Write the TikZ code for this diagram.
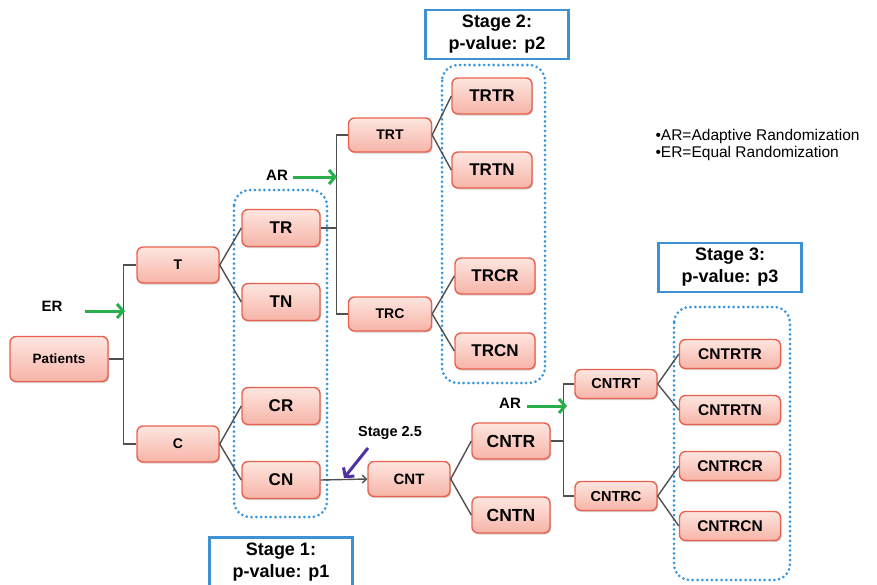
\documentclass[tikz,border=0pt]{standalone}
\usepackage{fontspec}
\setmainfont{Liberation Sans}
\usetikzlibrary{arrows.meta,shadows}

\definecolor{boxline}{RGB}{233,98,78}
\definecolor{boxtop}{RGB}{253,230,224}
\definecolor{boxbot}{RGB}{247,180,168}
\definecolor{stageblue}{RGB}{62,145,210}
\definecolor{dotblue}{RGB}{55,150,218}
\definecolor{argreen}{RGB}{40,175,75}
\definecolor{pointer}{RGB}{75,50,160}
\definecolor{wire}{RGB}{80,80,80}

\begin{document}
\begin{tikzpicture}[x=1pt,y=-1pt,
    grp/.style={draw=boxline, line width=1.4pt, rounded corners=6pt,
      top color=boxtop, bottom color=boxbot, inner sep=0pt,
      drop shadow={shadow xshift=1pt, shadow yshift=-1.5pt, opacity=0.3, fill=black!60}},
    fs/.style={font=\fontsize{#1}{#1}\selectfont\bfseries},
    root/.style={grp, fs=13.5, minimum width=98pt, minimum height=45pt},
    arm/.style={grp, fs=14, minimum width=82pt, minimum height=36pt},
    leafA/.style={grp, fs=17, minimum width=78pt, minimum height=37pt},
    sub/.style={grp, fs=14, minimum width=83pt, minimum height=34pt},
    leafB/.style={grp, fs=17, minimum width=80pt, minimum height=36pt},
    cntbox/.style={grp, fs=15, minimum width=82pt, minimum height=35pt},
    cnx/.style={grp, fs=17.5, minimum width=78pt, minimum height=36pt},
    cnsub/.style={grp, fs=14.5, minimum width=82pt, minimum height=29pt},
    leafC/.style={grp, fs=15.5, minimum width=101pt, minimum height=29pt},
    wire/.style={draw=wire, line width=1.4pt},
    adapt/.style={draw=argreen, line width=3pt, -{Straight Barb[length=6pt,width=14pt]}},
    stage/.style={draw=stageblue, line width=2.5pt, fill=white, align=center,
      font=\fontsize{18}{22}\selectfont\bfseries, minimum width=143pt, minimum height=49pt},
    pool/.style={draw=dotblue, line width=3pt, line cap=round,
      dash pattern=on 0pt off 4.8pt, rounded corners=16pt},
    tag/.style={font=\fontsize{15}{15}\selectfont\bfseries}]

  \useasboundingbox (0,0) rectangle (877,584);

  % dotted groups for each stage
  \draw[pool] (234,190) rectangle (327,517);
  \draw[pool] (442,65) rectangle (545,383);
  \draw[pool] (674,307) rectangle (790,580);

  % stage 1
  \node[root] (pat) at (59,359) {Patients};
  \node[arm] (t) at (178,265) {T};
  \node[arm] (c) at (178,444) {C};
  \node[leafA] (tr) at (281,228) {TR};
  \node[leafA] (tn) at (281,302) {TN};
  \node[leafA] (cr) at (281,406) {CR};
  \node[leafA] (cn) at (281,480) {CN};

  % stage 2
  \node[sub] (trt) at (390,135) {TRT};
  \node[sub] (trc) at (390,314) {TRC};
  \node[leafB] (trtr) at (492,96) {TRTR};
  \node[leafB] (trtn) at (492,170) {TRTN};
  \node[leafB] (trcr) at (495,276) {TRCR};
  \node[leafB] (trcn) at (495,351) {TRCN};

  % stage 2.5 and 3
  \node[cntbox] (cnt) at (409,479) {CNT};
  \node[cnx] (cntr) at (511,441) {CNTR};
  \node[cnx] (cntn) at (511,515) {CNTN};
  \node[cnsub] (cntrt) at (616,384) {CNTRT};
  \node[cnsub] (cntrc) at (616,496) {CNTRC};
  \node[leafC] (cntrtr) at (730,354) {CNTRTR};
  \node[leafC] (cntrtn) at (730,410) {CNTRTN};
  \node[leafC] (cntrcr) at (730,466) {CNTRCR};
  \node[leafC] (cntrcn) at (730,526) {CNTRCN};

  % branches
  \draw[wire] (pat.east) -- ++(15,0) coordinate (fork0) |- (t.west);
  \draw[wire] (fork0) |- (c.west);
  \draw[wire] (t.east) -- (tr.west);
  \draw[wire] (t.east) -- (tn.west);
  \draw[wire] (c.east) -- (cr.west);
  \draw[wire] (c.east) -- (cn.west);

  \draw[wire] (tr.east) -- ++(16,0) coordinate (fork1) |- (trt.west);
  \draw[wire] (fork1) |- (trc.west);
  \draw[wire] (trt.east) -- (trtr.west);
  \draw[wire] (trt.east) -- (trtn.west);
  \draw[wire] (trc.east) -- (trcr.west);
  \draw[wire] (trc.east) -- (trcn.west);

  \draw[wire, -{Straight Barb[length=4pt,width=8pt]}] (cn.east) -- (cnt.west);
  \draw[wire] (cnt.east) -- (cntr.west);
  \draw[wire] (cnt.east) -- (cntn.west);
  \draw[wire] (cntr.east) -- ++(13,0) coordinate (fork2) |- (cntrt.west);
  \draw[wire] (fork2) |- (cntrc.west);
  \draw[wire] (cntrt.east) -- (cntrtr.west);
  \draw[wire] (cntrt.east) -- (cntrtn.west);
  \draw[wire] (cntrc.east) -- (cntrcr.west);
  \draw[wire] (cntrc.east) -- (cntrcn.west);

  % randomization arrows
  \node[tag] (er) at (52,306) {ER};
  \coordinate (er-from) at (85,311);
  \coordinate (er-to) at (125,311);
  \draw[adapt] (er-from) -- (er-to);

  \node[tag] (ar1) at (277,175) {AR};
  \coordinate (ar1-from) at (293,177);
  \coordinate (ar1-to) at (337,177);
  \draw[adapt] (ar1-from) -- (ar1-to);

  \node[tag] (ar2) at (510,403) {AR};
  \coordinate (ar2-from) at (527,406);
  \coordinate (ar2-to) at (567,406);
  \draw[adapt] (ar2-from) -- (ar2-to);

  \node[tag, font=\fontsize{14.5}{14.5}\selectfont\bfseries] (half) at (390,433) {Stage 2.5};
  \coordinate (half-from) at (368,448);
  \coordinate (half-to) at (344,478);
  \draw[adapt, draw=pointer] (half-from) -- (half-to);

  % stage labels
  \node[stage] (s1) at (281,562) {Stage 1:\\p-value: p1};
  \node[stage] (s2) at (497,34.5) {Stage 2:\\p-value: p2};
  \node[stage] (s3) at (730,267.5) {Stage 3:\\p-value: p3};

  % legend
  \node[anchor=west, align=left, font=\fontsize{15.5}{16.5}\selectfont] (key) at (652,145)
    {•AR=Adaptive Randomization\\•ER=Equal Randomization};
\end{tikzpicture}
\end{document}
